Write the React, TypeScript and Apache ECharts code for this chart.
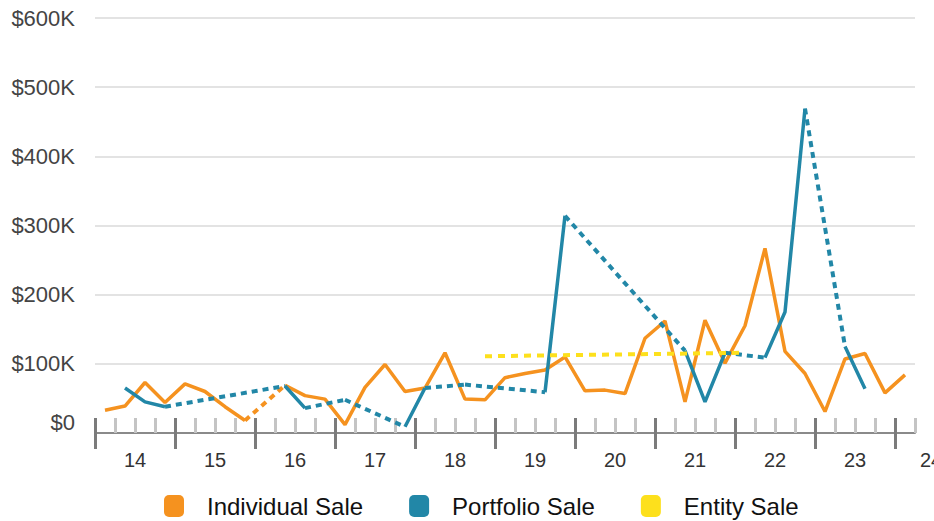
import React, { useEffect, useRef } from "react";
import * as echarts from "echarts";

// Quarterly sales volume, in $K, from 2014 Q1 to 2024 Q1 (41 quarters)
const quarterCount = 41;
const yearLabels = ["14", "15", "16", "17", "18", "19", "20", "21", "22", "23", "24"];
const yTicks = [0, 100000, 200000, 300000, 400000, 500000, 600000];

const individualSale: (number | null)[] = [
  33, 39, 73, 44, 71, 60, 38, 18, null, 69, 54, 49, 12, 66, 99, 60, 65, 116, 49, 48, 80,
  86, 91, 110, 61, 62, 57, 137, 162, 45, 163, 101, 155, 267, 118, 86, 31, 107, 115, 58, 84,
];
const portfolioSale: (number | null)[] = [
  null, 65, 45, 38, null, null, null, null, null, 68, 36, null, 48, null, null, 9, 65, null,
  70, null, null, null, 59, 314, null, null, null, null, null, 119, 45, 116, null, 109, 175,
  469, null, 125, 64, null, null,
];
const entitySale: (number | null)[] = [
  null, null, null, null, null, null, null, null, null, null, null, null, null, null, null,
  null, null, null, null, 111, null, null, null, null, null, null, null, null, null, null,
  null, null, 116, null, null, null, null, null, null, null, null,
];

const seriesNames = ["Individual Sale", "Portfolio Sale", "Entity Sale"];
const seriesColors = ["#F5921F", "#2287A7", "#FDE01C"];
const seriesValues = [individualSale, portfolioSale, entitySale];

const FONT = "'Liberation Sans', Arial, Helvetica, sans-serif";

function solidData(vals: (number | null)[]) {
  return vals.map((v, i) => [i + 0.5, v === null ? "-" : v * 1000]);
}

// dotted segments bridge the gaps between known values
function gapData(vals: (number | null)[]) {
  const out: any[] = [];
  let prev = -1;
  vals.forEach((v, i) => {
    if (v === null) return;
    if (prev >= 0 && i - prev > 1) {
      if (out.length) out.push([prev + 0.5, "-"]);
      out.push([prev + 0.5, (vals[prev] as number) * 1000]);
      out.push([i + 0.5, v * 1000]);
    }
    prev = i;
  });
  return out;
}

export default function App() {
  const ref = useRef<HTMLDivElement>(null);

  useEffect(() => {
    document.body.style.margin = "0";
    if (!ref.current) return;
    const chart = echarts.init(ref.current, undefined, { renderer: "svg" });

    const series: any[] = [];
    seriesNames.forEach((name, k) => {
      series.push({
        name,
        type: "line",
        xAxisIndex: 0,
        yAxisIndex: 0,
        data: solidData(seriesValues[k]),
        symbol: "none",
        connectNulls: false,
        itemStyle: { color: seriesColors[k] },
        lineStyle: { color: seriesColors[k], width: 3.5 },
        z: 3 + k,
      });
      series.push({
        name,
        type: "line",
        xAxisIndex: 0,
        yAxisIndex: 0,
        data: gapData(seriesValues[k]),
        symbol: "none",
        connectNulls: false,
        itemStyle: { color: seriesColors[k] },
        lineStyle: {
          color: seriesColors[k],
          width: 4,
          type: k === 2 ? [7, 6] : [6, 5],
        },
        z: 3 + k,
      });
    });

    const option: any = {
      animation: false,
      grid: [
        { left: 95, right: 19, top: 18, bottom: 88, outerBoundsMode: "none", containLabel: false },
        { left: 95, right: -41, top: 18, bottom: 88, outerBoundsMode: "none", containLabel: false },
      ],
      xAxis: [
        {
          type: "value",
          gridIndex: 0,
          position: "bottom",
          min: 0,
          max: quarterCount,
          interval: 1,
          axisLine: { show: true, lineStyle: { color: "#8a8a8a", width: 2 } },
          axisTick: { show: true, inside: true, length: 15, lineStyle: { color: "#c4c4c4", width: 3 } },
          axisLabel: { show: false },
          splitLine: { show: false },
        },
        {
          type: "value",
          gridIndex: 1,
          position: "bottom",
          min: 0,
          max: 44,
          interval: 4,
          axisLine: { show: false },
          axisTick: { show: true, inside: true, length: 15, lineStyle: { color: "#7b7b7b", width: 3 } },
          axisLabel: { show: false },
          splitLine: { show: false },
        },
        {
          type: "value",
          gridIndex: 1,
          position: "bottom",
          min: 0,
          max: 44,
          interval: 4,
          axisLine: { show: false },
          axisTick: { show: true, inside: false, length: 16, lineStyle: { color: "#7b7b7b", width: 3 } },
          axisLabel: { show: false },
          splitLine: { show: false },
        },
        {
          type: "value",
          gridIndex: 1,
          position: "bottom",
          min: 0,
          max: 44,
          interval: 1,
          axisLine: { show: false },
          axisTick: { show: false },
          splitLine: { show: false },
          axisLabel: {
            show: true,
            margin: 17,
            fontSize: 20,
            fontFamily: FONT,
            color: "#333",
            formatter: (v: number) => {
              if (v % 4 !== 2) return "";
              const idx = (v - 2) / 4;
              const s = yearLabels[idx] ?? "";
              return idx === yearLabels.length - 1 ? "{edge|" + s + "}" : s;
            },
            rich: {
              edge: {
                fontSize: 20,
                fontFamily: FONT,
                color: "#333",
                padding: [0, 8, 0, 0],
              },
            },
          },
        },
      ],
      yAxis: [
        {
          type: "value",
          gridIndex: 0,
          min: yTicks[0],
          max: yTicks[yTicks.length - 1],
          interval: yTicks[1] - yTicks[0],
          axisLine: { show: false },
          axisTick: { show: false },
          splitLine: { show: true, lineStyle: { color: "#dadada", width: 1.5 } },
          axisLabel: {
            margin: 20,
            fontSize: 22,
            fontFamily: FONT,
            color: "#444",
            verticalAlignMinLabel: "bottom",
            formatter: (v: number) => (v === 0 ? "$0" : "$" + v / 1000 + "K"),
          },
        },
        {
          type: "value",
          gridIndex: 1,
          min: 0,
          max: 1,
          show: false,
        },
      ],
      legend: {
        left: 159,
        top: 489,
        itemWidth: 20,
        itemHeight: 22,
        itemGap: 46,
        icon: "roundRect",
        data: seriesNames.map((n) => ({ name: n, icon: "roundRect" })),
        itemStyle: { borderWidth: 0 },
        lineStyle: { width: 0 },
        textStyle: {
          fontSize: 24,
          fontFamily: FONT,
          color: "#111",
          padding: [0, 0, 0, 18],
        },
      },
      series,
    };

    chart.setOption(option);
    return () => chart.dispose();
  }, []);

  return <div ref={ref} style={{ width: 934, height: 521 }} />;
}
